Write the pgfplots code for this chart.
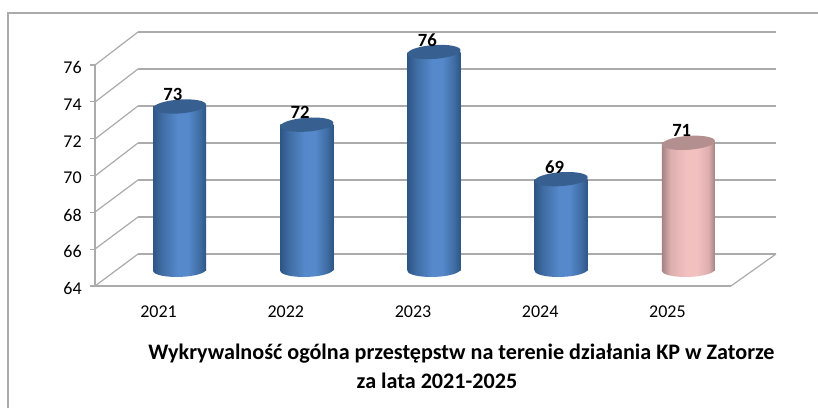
\documentclass[border=0pt]{standalone}
\usepackage{pgfplots}
\pgfplotsset{compat=1.18}
\usepackage{fontspec}
\setmainfont{Carlito}
\definecolor{gridg}{HTML}{ABABAB}
\definecolor{blueTop}{HTML}{375F8F}
\definecolor{pinkTop}{HTML}{B38F8F}
\definecolor{bE}{HTML}{2E5685}
\definecolor{bM}{HTML}{3F6CA3}
\definecolor{bC}{HTML}{5589CB}
\definecolor{pE}{HTML}{A38383}
\definecolor{pM}{HTML}{DDAEAE}
\definecolor{pC}{HTML}{F3C0C0}
\pgfdeclarehorizontalshading{blueshade}{100bp}{color(0bp)=(bE); color(25bp)=(bE); color(33bp)=(bM); color(48bp)=(bC); color(58bp)=(bC); color(69bp)=(bM); color(75bp)=(bE); color(100bp)=(bE)}
\pgfdeclarehorizontalshading{pinkshade}{100bp}{color(0bp)=(pE); color(25bp)=(pE); color(33bp)=(pM); color(48bp)=(pC); color(58bp)=(pC); color(69bp)=(pM); color(75bp)=(pE); color(100bp)=(pE)}
\pgfdeclareplotmark{captop}{\pgfpathellipse{\pgfpointorigin}{\pgfpoint{19.9pt}{1.4pt}}{\pgfpoint{-0.3pt}{5.2pt}}\pgfusepathqfill}
\pgfdeclareplotmark{botblue}{\pgfpathellipse{\pgfpointorigin}{\pgfpoint{19.9pt}{0.6pt}}{\pgfpoint{-0.1pt}{5.2pt}}\pgfshadepath{blueshade}{0}\pgfusepath{discard}}
\pgfdeclareplotmark{botpink}{\pgfpathellipse{\pgfpointorigin}{\pgfpoint{19.9pt}{0.6pt}}{\pgfpoint{-0.1pt}{5.2pt}}\pgfshadepath{pinkshade}{0}\pgfusepath{discard}}
\pgfplotsset{
  cylblue/.style={ybar,bar width=39.75pt,bar shift=0pt,draw=none,shade,shading=blueshade,shading angle=0},
  cylpink/.style={ybar,bar width=39.75pt,bar shift=0pt,draw=none,shade,shading=pinkshade,shading angle=0},
  vallabel/.style={nodes near coords,
    every node near coord/.append style={font=\bfseries\fontsize{14pt}{16pt}\selectfont,text=black,anchor=center,xshift=-5pt,yshift=9pt},
    /pgf/number format/assume math mode=true},
}
\begin{document}
\begin{tikzpicture}
\useasboundingbox (0,0) rectangle (613.5pt,306pt);
\fill[white] (0,0) rectangle (613.5pt,306pt);
% chart frame: top and left edges are visible
\draw[gridg,line width=1.1pt] (6pt,0pt) -- (6pt,296.25pt) -- (613.5pt,296.25pt);
% back wall
\begin{axis}[
  at={(103.5pt,115.5pt)},anchor=south west,
  width=478.5pt,height=166.5pt,scale only axis,
  xmin=0,xmax=1,ymin=64,ymax=76,ytick={64,66,...,76},xtick=\empty,
  yticklabels={},
  axis line style={draw=none},tick style={draw=none},
  ymajorgrids,grid style={gridg,line width=1.1pt},
]
\addplot[draw=none] coordinates {(0,64)};
\end{axis}
% side wall and floor edges
\foreach \fy/\by in {286/254,249/217,212/180,176/143,139/106,102/69,65/32}{
  \draw[gridg,line width=0.9pt] ({95*0.75pt},{(408-\fy)*0.75pt}) -- ({138*0.75pt},{(408-\by)*0.75pt});
}
\draw[gridg,line width=0.9pt] ({731*0.75pt},{(408-286)*0.75pt}) -- ({776*0.75pt},{(408-254)*0.75pt});
% front axes
\begin{axis}[
  at={(71.25pt,91.5pt)},anchor=south west,
  width=477pt,height=165.75pt,scale only axis,
  xmin=-0.5,xmax=4.5,ymin=64,ymax=76,
  ytick={64,66,...,76},
  xtick={0,1,2,3,4},
  xticklabels={2021,2022,2023,2024,2025},
  minor xtick={-0.5,0.5,1.5,2.5,3.5,4.5},
  axis x line*=bottom,axis y line*=left,
  axis line style={gridg,line width=1.1pt,-},
  every tick/.style={gridg,line width=0.9pt},
  xtick style={draw=none},
  minor x tick style={gridg,line width=0.9pt},
  tick align=outside,
  major tick length=3.5pt,minor tick length=3.5pt,
  /pgf/number format/assume math mode=true,
  tick label style={font=\fontsize{13.5pt}{15pt}\selectfont,text=black},
  xticklabel style={yshift=-8pt},
  yticklabel style={yshift=-2pt,xshift=-3pt},
]
\addplot[draw=none] coordinates {(0,64)};
\end{axis}
% cylinders
\begin{axis}[
  at={(87pt,103.5pt)},anchor=south west,
  width=477pt,height=163.5pt,scale only axis,
  xmin=-0.5,xmax=4.5,ymin=64,ymax=76,
  hide axis,clip=false,
]
\addplot[only marks,mark=botblue] coordinates {(0,64)(1,64)(2,64)(3,64)};
\addplot[only marks,mark=botpink] coordinates {(4,64)};
\addplot[cylblue] coordinates {(0,73)};
\addplot[cylblue] coordinates {(1,72)};
\addplot[cylblue] coordinates {(2,76)};
\addplot[cylblue] coordinates {(3,69)};
\addplot[cylpink] coordinates {(4,71)};
\addplot[only marks,mark=captop,mark options={fill=blueTop,draw=none},vallabel]
  coordinates {(0,73)(1,72)(2,76)(3,69)};
\addplot[only marks,mark=captop,mark options={fill=pinkTop,draw=none},vallabel]
  coordinates {(4,71)};
\end{axis}
% title
\node[font=\bfseries\fontsize{16.6pt}{19pt}\selectfont,text=black,inner sep=0pt] at ({461.5*0.75pt},{(408-354)*0.75pt}) {Wykrywalność ogólna przestępstw na terenie działania KP w Zatorze};
\node[font=\bfseries\fontsize{16.6pt}{19pt}\selectfont,text=black,inner sep=0pt] at ({437*0.75pt},{(408-381)*0.75pt}) {za lata 2021-2025};
\end{tikzpicture}
\end{document}
